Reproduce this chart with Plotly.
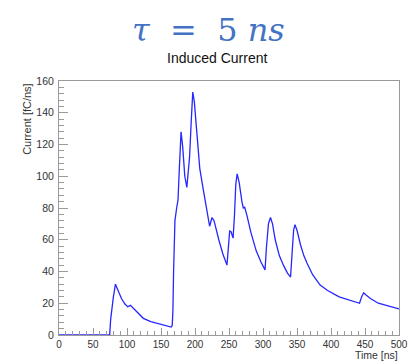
import plotly.graph_objects as go

# Time [ns] and induced current [fC/ns]
time_ns = [0, 40, 74.5, 76, 78, 80, 83, 87, 92, 97, 101, 105, 110, 116, 124, 135, 150, 160, 165,
           166.5, 167.5, 168.5, 169.5, 170.5, 173, 175, 177, 179.5, 182, 185, 188, 190, 192, 194.5,
           196.7, 199, 203, 207, 212, 217, 221.5, 225, 228, 235, 241, 247, 249, 251, 253, 256,
           258, 260, 262, 265, 269, 271, 273, 276, 282, 290, 297, 303, 305, 308, 311, 314, 318,
           324, 330, 336, 340.5, 343, 345, 347, 350, 355, 360, 365, 373, 384, 395, 412, 430,
           442, 445, 448, 452, 458, 469.5, 485, 500]
current = [0, 0, 0, 10, 18, 24, 32, 28, 22.8, 19.5, 17.8, 18.7, 16.5, 13.8, 10.5, 8.5, 6.9, 5.8, 5.0,
           6, 15, 40, 58, 72, 80, 85, 105, 128, 118, 100, 93, 103, 112, 135,
           153, 147, 125, 105, 92, 80, 68.5, 74, 72, 60, 51, 44, 55, 65.5, 65, 61,
           75, 95, 101.5, 96, 84, 80, 80.5, 76, 65, 53, 46, 41, 55, 70, 74, 70, 60,
           50, 44, 39, 36.5, 55, 66, 69.5, 66, 57, 50, 45, 38, 31.4, 28, 24, 21.5,
           20, 24, 26.6, 25, 23, 20, 18, 16.4]

x_ticks = [0, 50, 100, 150, 200, 250, 300, 350, 400, 450, 500]
y_ticks = [0, 20, 40, 60, 80, 100, 120, 140, 160]

AX = "#9a9a9a"
TXT = "#333333"
FONT = "Liberation Sans, Arial, Helvetica, sans-serif"

fig = go.Figure()
fig.add_trace(go.Scatter(x=time_ns, y=current, mode="lines",
                         line=dict(color="#2626ff", width=1.3), hoverinfo="skip",
                         showlegend=False))

W, H = 415, 361
ml, mr, mt, mb = 59, 7, 81, 26

fig.update_layout(
    width=W, height=H,
    margin=dict(l=ml, r=mr, t=mt, b=mb),
    paper_bgcolor="white", plot_bgcolor="white",
    font=dict(family=FONT, color=TXT, size=10.5),
    xaxis=dict(range=[0, 500], tickvals=x_ticks, showgrid=False, zeroline=False,
               showline=True, linecolor=AX, linewidth=1, mirror=True,
               ticks="inside", ticklen=7, tickcolor=AX, tickwidth=1,
               minor=dict(ticks="inside", dtick=10, ticklen=4, tickcolor=AX, tickwidth=1),
               tickfont=dict(size=10, color=TXT), ticklabelstandoff=0,
               ticklabeloverflow="allow"),
    yaxis=dict(range=[0, 160], tickvals=y_ticks, showgrid=False, zeroline=False,
               showline=True, linecolor=AX, linewidth=1, mirror=True,
               ticks="inside", ticklen=9, tickcolor=AX, tickwidth=1,
               minor=dict(ticks="inside", dtick=4, ticklen=5, tickcolor=AX, tickwidth=1),
               tickfont=dict(size=10.5, color=TXT), ticklabelstandoff=2),
)

pw = W - ml - mr
ph = H - mt - mb


def px_x(p):
    return (p - ml) / pw


def px_y(p):
    return 1 - (p - mt) / ph


fig.add_annotation(text="<i>τ</i>\u00a0 = \u00a05 <i>ns</i>", xref="paper", yref="paper",
                   x=px_x(212), y=px_y(30), xanchor="center", yanchor="middle",
                   showarrow=False,
                   font=dict(family="DejaVu Serif, Liberation Serif, serif", size=32, color="#4472c4"))
fig.add_annotation(text="Induced Current", xref="paper", yref="paper",
                   x=px_x(222), y=px_y(58), xanchor="center", yanchor="middle",
                   showarrow=False, font=dict(family=FONT, size=14, color="#111111"))
fig.add_annotation(text="Current [fC/ns]", xref="paper", yref="paper", textangle=-90,
                   x=px_x(26), y=px_y(81), xanchor="center", yanchor="top",
                   showarrow=False, font=dict(family=FONT, size=11, color=TXT))
fig.add_annotation(text="Time [ns]", xref="paper", yref="paper",
                   x=px_x(409), y=px_y(355), xanchor="right", yanchor="middle",
                   showarrow=False, font=dict(family=FONT, size=10.5, color=TXT))

fig.write_html("out.html")
